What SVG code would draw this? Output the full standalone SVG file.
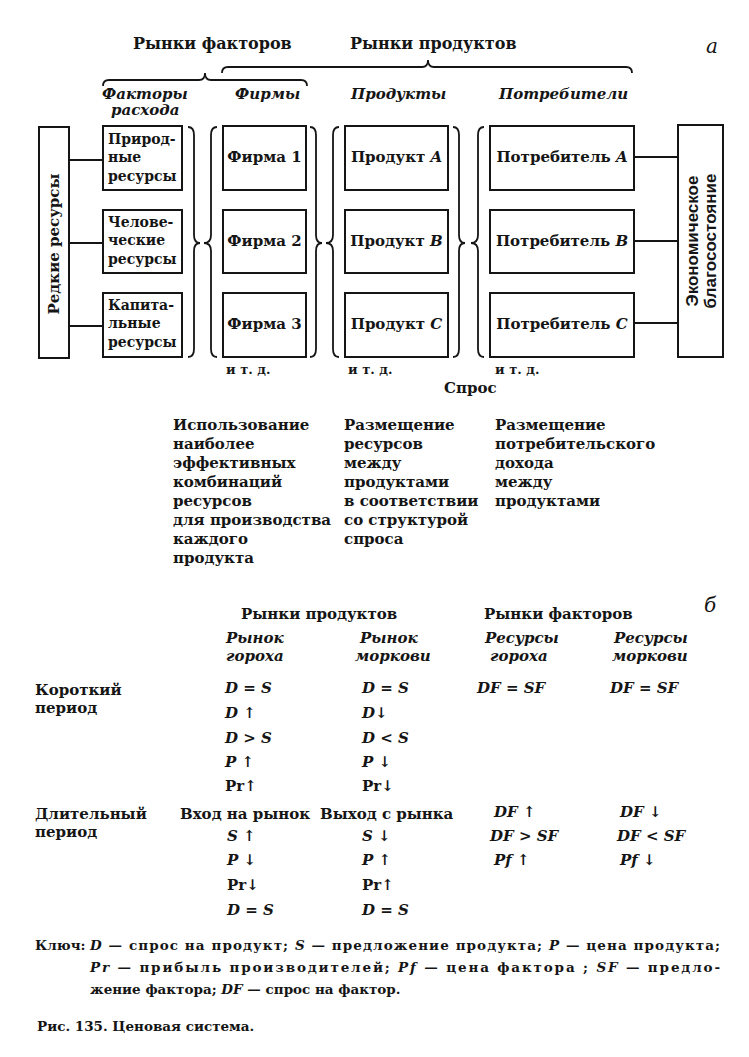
<svg xmlns="http://www.w3.org/2000/svg" width="749" height="1057" viewBox="0 0 749 1057">
<style>
text{font-family:"DejaVu Serif","Liberation Serif",serif;font-weight:bold;font-size:15px;fill:#151515}
.i{font-style:italic}
.n{font-weight:normal}
.s{font-size:13px}
.r{font-size:14px}
.k{font-size:13.5px}
.hd{font-size:16px}
.sans{font-family:"Liberation Sans","DejaVu Sans",sans-serif;font-size:17px}
.m{text-anchor:middle}
.box{fill:none;stroke:#151515;stroke-width:2}
.ln{fill:none;stroke:#151515;stroke-width:2}
.br{fill:none;stroke:#151515;stroke-width:1.8}
</style>
<rect width="749" height="1057" fill="#fff"/>

<g id="headers-a">
<text x="133" y="49" class="hd">Рынки факторов</text>
<text x="350" y="49" class="hd">Рынки продуктов</text>
<text x="706" y="53" class="i n" style="font-size:20px">а</text>
<path class="br" d="M222,73 Q222,67 228,67 L422,67 Q428,67 428,60 Q428,67 434,67 L626,67 Q632,67 632,73"/>
<path class="br" d="M103,86 Q103,80 109,80 L199,80 Q205,80 205,73 Q205,80 211,80 L301,80 Q307,80 307,86"/>
<text x="102" y="99" class="i">Факторы</text>
<text x="111" y="115" class="i">расхода</text>
<text x="235" y="99" class="i">Фирмы</text>
<text x="351" y="99" class="i">Продукты</text>
<text x="499" y="99" class="i">Потребители</text>
</g>

<g id="connectors">
<line class="ln" x1="69" y1="160" x2="103" y2="160"/>
<line class="ln" x1="69" y1="243" x2="103" y2="243"/>
<line class="ln" x1="69" y1="326" x2="103" y2="326"/>
<line class="ln" x1="634" y1="157" x2="678" y2="157"/>
<line class="ln" x1="634" y1="241" x2="678" y2="241"/>
<line class="ln" x1="634" y1="323" x2="678" y2="323"/>
<path class="br" d="M188,127 Q194,127 194,135 L194,235 Q194,243 200,243 Q194,243 194,251 L194,349 Q194,357 188,357"/>
<path class="br" d="M217,127 Q211,127 211,135 L211,235 Q211,243 204,243 Q211,243 211,251 L211,349 Q211,357 217,357"/>
<path class="br" d="M310,127 Q316,127 316,135 L316,235 Q316,243 322,243 Q316,243 316,251 L316,349 Q316,357 310,357"/>
<path class="br" d="M339,127 Q333,127 333,135 L333,235 Q333,243 326,243 Q333,243 333,251 L333,349 Q333,357 339,357"/>
<path class="br" d="M453,127 Q459,127 459,135 L459,235 Q459,243 465,243 Q459,243 459,251 L459,349 Q459,357 453,357"/>
<path class="br" d="M484,127 Q478,127 478,135 L478,235 Q478,243 471,243 Q478,243 478,251 L478,349 Q478,357 484,357"/>
</g>

<g id="rare">
<rect class="box" x="39" y="127" width="30" height="231"/>
<text class="m" transform="translate(59,244) rotate(-90)">Редкие ресурсы</text>
</g>

<g id="res1"><rect class="box" x="103" y="126" width="79" height="64"/>
<text class="r" x="108" y="144">Природ-</text><text class="r" x="108" y="162">ные</text><text class="r" x="108" y="181">ресурсы</text></g>
<g id="res2"><rect class="box" x="103" y="210" width="79" height="63"/>
<text class="r" x="108" y="227">Челове-</text><text class="r" x="108" y="245">ческие</text><text class="r" x="108" y="264">ресурсы</text></g>
<g id="res3"><rect class="box" x="103" y="293" width="79" height="64"/>
<text class="r" x="108" y="310">Капита-</text><text class="r" x="108" y="328">льные</text><text class="r" x="108" y="347">ресурсы</text></g>

<g id="firm1"><rect class="box" x="223" y="126" width="83" height="64"/><text class="m" x="264.5" y="162">Фирма 1</text></g>
<g id="firm2"><rect class="box" x="223" y="210" width="83" height="63"/><text class="m" x="264.5" y="246">Фирма 2</text></g>
<g id="firm3"><rect class="box" x="223" y="293" width="83" height="64"/><text class="m" x="264.5" y="329">Фирма 3</text></g>

<g id="prodA"><rect class="box" x="345" y="126" width="103" height="64"/><text class="m" x="396.5" y="162">Продукт <tspan class="i">A</tspan></text></g>
<g id="prodB"><rect class="box" x="345" y="210" width="103" height="63"/><text class="m" x="396.5" y="246">Продукт <tspan class="i">B</tspan></text></g>
<g id="prodC"><rect class="box" x="345" y="293" width="103" height="64"/><text class="m" x="396.5" y="329">Продукт <tspan class="i">C</tspan></text></g>

<g id="consA"><rect class="box" x="490" y="126" width="144" height="64"/><text class="m" x="562" y="162">Потребитель <tspan class="i">A</tspan></text></g>
<g id="consB"><rect class="box" x="490" y="210" width="144" height="63"/><text class="m" x="562" y="246">Потребитель <tspan class="i">B</tspan></text></g>
<g id="consC"><rect class="box" x="490" y="293" width="144" height="64"/><text class="m" x="562" y="329">Потребитель <tspan class="i">C</tspan></text></g>

<g id="welfare">
<rect class="box" x="678" y="125" width="45" height="232"/>
<text class="sans m" transform="translate(698,241) rotate(-90)">Экономическое</text>
<text class="sans m" transform="translate(716,241) rotate(-90)">благосостояние</text>
</g>

<g id="notes-a">
<text x="226" y="374" class="s">и т. д.</text>
<text x="348" y="374" class="s">и т. д.</text>
<text x="495" y="374" class="s">и т. д.</text>
<text x="444" y="393">Спрос</text>
<text x="173" y="430">Использование</text>
<text x="173" y="449">наиболее</text>
<text x="173" y="468">эффективных</text>
<text x="173" y="487">комбинаций</text>
<text x="173" y="506">ресурсов</text>
<text x="173" y="525">для производства</text>
<text x="173" y="544">каждого</text>
<text x="173" y="563">продукта</text>
<text x="344" y="430">Размещение</text>
<text x="344" y="449">ресурсов</text>
<text x="344" y="468">между</text>
<text x="344" y="487">продуктами</text>
<text x="344" y="506">в соответствии</text>
<text x="344" y="525">со структурой</text>
<text x="344" y="544">спроса</text>
<text x="495" y="430">Размещение</text>
<text x="495" y="449">потребительского</text>
<text x="495" y="468">дохода</text>
<text x="495" y="487">между</text>
<text x="495" y="506">продуктами</text>
</g>

<g id="table-b">
<text x="241" y="619">Рынки продуктов</text>
<text x="484" y="619">Рынки факторов</text>
<text x="704" y="612" class="i n" style="font-size:20px">б</text>
<text x="226" y="643" class="i">Рынок</text>
<text x="226" y="661" class="i">гороха</text>
<text x="360" y="643" class="i">Рынок</text>
<text x="355" y="661" class="i">моркови</text>
<text x="485" y="643" class="i">Ресурсы</text>
<text x="490" y="661" class="i">гороха</text>
<text x="614" y="643" class="i">Ресурсы</text>
<text x="612" y="661" class="i">моркови</text>

<text x="35" y="695">Короткий</text>
<text x="35" y="713">период</text>
<text x="225" y="693" class="i">D = S</text>
<text x="225" y="718"><tspan class="i">D</tspan> ↑</text>
<text x="225" y="743" class="i">D &gt; S</text>
<text x="225" y="767"><tspan class="i">P</tspan> ↑</text>
<text x="225" y="791">Pr↑</text>
<text x="362" y="693" class="i">D = S</text>
<text x="362" y="718"><tspan class="i">D</tspan>↓</text>
<text x="362" y="743" class="i">D &lt; S</text>
<text x="362" y="767"><tspan class="i">P</tspan> ↓</text>
<text x="362" y="791">Pr↓</text>
<text x="477" y="693" class="i">DF = SF</text>
<text x="610" y="693" class="i">DF = SF</text>

<text x="35" y="819">Длительный</text>
<text x="35" y="837">период</text>
<text x="180" y="819">Вход на рынок</text>
<text x="320" y="819">Выход с рынка</text>
<text x="227" y="841"><tspan class="i">S</tspan> ↑</text>
<text x="227" y="865"><tspan class="i">P</tspan> ↓</text>
<text x="227" y="890">Pr↓</text>
<text x="227" y="915" class="i">D = S</text>
<text x="362" y="841"><tspan class="i">S</tspan> ↓</text>
<text x="362" y="865"><tspan class="i">P</tspan> ↑</text>
<text x="362" y="890">Pr↑</text>
<text x="362" y="915" class="i">D = S</text>
<text x="494" y="817"><tspan class="i">DF</tspan> ↑</text>
<text x="490" y="841" class="i">DF &gt; SF</text>
<text x="494" y="865"><tspan class="i">Pf</tspan> ↑</text>
<text x="620" y="817"><tspan class="i">DF</tspan> ↓</text>
<text x="617" y="841" class="i">DF &lt; SF</text>
<text x="620" y="865"><tspan class="i">Pf</tspan> ↓</text>
</g>

<g id="key">
<text class="k" x="35" y="950">Ключ:</text>
<text class="k" x="90" y="950" textLength="630" lengthAdjust="spacing"><tspan class="i">D</tspan> — спрос на продукт; <tspan class="i">S</tspan> — предложение продукта; <tspan class="i">P</tspan> — цена продукта;</text>
<text class="k" x="90" y="972" textLength="630" lengthAdjust="spacing"><tspan class="i">Pr</tspan> — прибыль производителей; <tspan class="i">Pf</tspan> — цена фактора ; <tspan class="i">SF</tspan> — предло-</text>
<text class="k" x="90" y="994">жение фактора; <tspan class="i">DF</tspan> — спрос на фактор.</text>
<text class="k" x="37" y="1031">Рис. 135. Ценовая система.</text>
</g>
</svg>
